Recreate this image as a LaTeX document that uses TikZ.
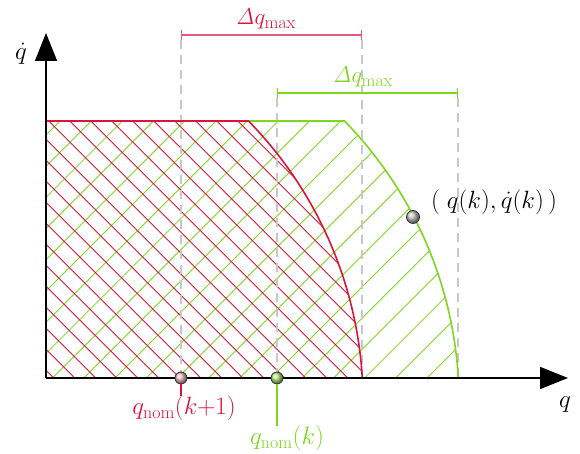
\RequirePackage{fix-cm}
\documentclass[tikz,border=0pt]{standalone}
\usetikzlibrary{arrows.meta}
\DeclareMathSizes{23}{23}{18}{14}
\DeclareMathSizes{25}{25}{18}{14}
\definecolor{cred}{HTML}{DC143C}
\definecolor{cgreen}{HTML}{7ED61E}
\definecolor{dimred}{HTML}{E8587A}
\definecolor{dashgray}{HTML}{C8C8C8}
\begin{document}
\begin{tikzpicture}[x=1pt,y=1pt,
  axisline/.style={line width=1.5pt,-{Triangle[length=28pt,width=22pt]}},
  hatchR/.style={cred,line width=0.85pt},
  hatchG/.style={cgreen,line width=0.85pt},
  guide/.style={dashgray,line width=1.4pt,dash pattern=on 9pt off 6pt},
  dimbar/.style={line width=1.2pt,{Bar[width=10pt]}-{Bar[width=10pt]}},
  ballmark/.style={circle,draw=black!80,line width=0.8pt,inner sep=0pt,minimum size=12pt,shading=ball},
  lbl/.style={inner sep=0pt,font=\fontsize{25}{30}\selectfont},
  dlbl/.style={inner sep=0pt,font=\fontsize{23}{27}\selectfont}]
\useasboundingbox (0,0) rectangle (580,454);
% hatching
\begin{scope}
\clip (46,76) -- (46,333) -- (344.5,333) arc[start angle=44.35,end angle=3.42,radius=402] -- cycle;
\foreach \n in {-1,...,22} {\draw[hatchG] ({-273+31.2*\n},0) -- ++(460,460);}
\end{scope}
\begin{scope}
\clip (46,76) -- (46,333) -- (248.5,333) arc[start angle=44.35,end angle=3.42,radius=402] -- cycle;
\foreach \n in {-17,...,12} {\draw[hatchR] ({465.7+21*\n},0) -- ++(-460,460);}
\end{scope}
% guides
\coordinate (gR1t) at (181,414); \coordinate (gR1b) at (181,82);
\coordinate (gR2t) at (362,414); \coordinate (gR2b) at (362,76);
\coordinate (gG1t) at (277,356); \coordinate (gG1b) at (277,82);
\coordinate (gG2t) at (458,356); \coordinate (gG2b) at (458,76);
\draw[guide] (gR1t) -- (gR1b);
\draw[guide] (gR2t) -- (gR2b);
\draw[guide] (gG1t) -- (gG1b);
\draw[guide] (gG2t) -- (gG2b);
% outlines
\draw[cgreen,line width=1.6pt] (46,333) -- (344.5,333) arc[start angle=44.35,end angle=3.42,radius=402];
\draw[cred,line width=1.6pt] (46,333) -- (248.5,333) arc[start angle=44.35,end angle=3.42,radius=402];
% axes
\coordinate (O) at (46,76);
\coordinate (ytip) at (46,421);
\coordinate (xtip) at (568,76);
\draw[axisline] (O) -- (ytip);
\draw[axisline] (O) -- (xtip);
\node[lbl] (ylab) at (21,400) {$\dot q$};
\node[lbl] (xlab) at (565,49) {$q$};
% dimension bars
\coordinate (dR1) at (181,419); \coordinate (dR2) at (362,419);
\coordinate (dG1) at (277,361); \coordinate (dG2) at (458,361);
\draw[dimbar,dimred] (dR1) -- (dR2);
\draw[dimbar,cgreen] (dG1) -- (dG2);
\node[dlbl,text=cred] (dRlab) at (266,435) {$\mathit{\Delta} q_{\max}$};
\node[dlbl,text=cgreen] (dGlab) at (363,377) {$\mathit{\Delta} q_{\max}$};
% markers
\node[ballmark,ball color=cred!30] (mR) at (181,76) {};
\node[ballmark,ball color=cgreen!55] (mG) at (277,76) {};
\node[ballmark,ball color=gray!45,minimum size=13pt] (mP) at (413,237) {};
\node[lbl,anchor=north,text=cred] (lR) at (184,58) {$q_{\mathrm{nom}}(k{+}1)$};
\node[lbl,anchor=north,text=cgreen] (lG) at (287,28) {$q_{\mathrm{nom}}(k)$};
\draw[cred,line width=1.5pt] (mR.south) -- (mR.south |- lR.north);
\draw[cgreen,line width=1.5pt] (mG.south) -- (mG.south |- lG.north);
\node[lbl] (pl) at (494,252) {$\bigl(\;q(k),\dot q(k)\,\bigr)$};
\end{tikzpicture}
\end{document}
